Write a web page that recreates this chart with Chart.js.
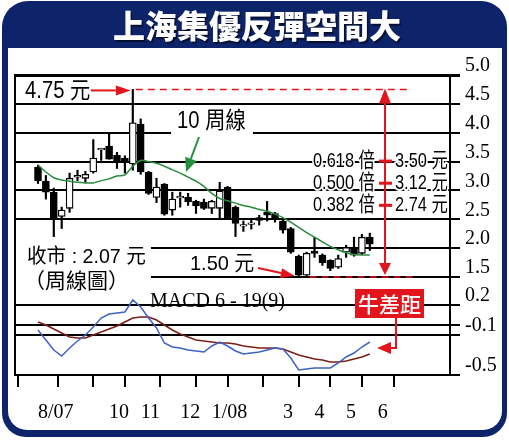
<!DOCTYPE html>
<html>
<head>
<meta charset="utf-8">
<script src="https://cdn.jsdelivr.net/npm/chart.js@4.4.1/dist/chart.umd.min.js"></script>
<style>
  html, body { margin: 0; padding: 0; background: #fff; }
  #wrap { width: 509px; height: 440px; position: relative; }
</style>
</head>
<body>
<div id="wrap"><canvas id="c" width="509" height="440"></canvas></div>
<script>
// Weekly candles, Aug 2007 – May 2008 (HKD)
const opens  = [3.40,3.16,2.97,2.55,2.69,3.23,3.21,3.32,3.70,3.77,3.61,3.56,3.46,4.15,3.32,2.88,3.11,2.66,2.87,2.88,2.81,2.80,2.69,2.69,3.06,2.71,2.38,2.41,2.53,2.62,2.60,2.47,2.34,1.86,1.53,1.95,1.88,1.79,1.67,1.93,2.01,1.91,2.19];
const highs  = [3.44,3.26,3.04,2.71,3.30,3.35,3.33,3.88,3.73,4.00,3.66,3.60,4.75,4.24,3.33,3.21,3.12,2.97,2.97,2.95,2.83,2.85,2.83,3.14,3.07,2.73,2.47,2.50,2.57,2.81,2.62,2.50,2.36,1.88,1.93,2.19,1.90,1.80,1.88,2.05,2.19,2.24,2.26];
const lows   = [3.12,2.85,2.20,2.34,2.62,3.17,3.14,3.30,3.52,3.54,3.38,3.30,3.35,3.28,2.93,2.79,2.57,2.57,2.71,2.74,2.60,2.67,2.60,2.52,2.51,2.20,2.29,2.33,2.40,2.47,2.45,2.26,1.91,1.50,1.50,1.84,1.70,1.61,1.65,1.84,1.86,1.89,1.96];
const closes = [3.17,2.97,2.52,2.66,3.21,3.26,3.28,3.56,3.73,3.54,3.49,3.51,4.17,3.32,2.95,3.06,2.59,2.85,2.90,2.80,2.73,2.69,2.81,2.99,2.53,2.43,2.41,2.44,2.48,2.57,2.50,2.31,1.93,1.53,1.91,1.91,1.75,1.65,1.82,2.01,1.88,2.19,2.07];

// 10-week moving average
const ma10 = [3.44,3.32,3.22,3.18,3.16,3.14,3.13,3.13,3.17,3.20,3.25,3.27,3.42,3.52,3.50,3.47,3.42,3.36,3.30,3.23,3.16,3.07,2.95,2.86,2.82,2.78,2.74,2.71,2.67,2.64,2.59,2.53,2.45,2.36,2.27,2.19,2.11,2.03,1.97,1.92,1.89,1.88,1.88];

// MACD 6-19(9)
const macdDif = [-0.05,-0.15,-0.25,-0.31,-0.23,-0.16,-0.10,-0.02,0.07,0.11,0.12,0.13,0.25,0.18,0.07,-0.03,-0.18,-0.22,-0.23,-0.25,-0.26,-0.27,-0.21,-0.17,-0.21,-0.26,-0.29,-0.28,-0.27,-0.25,-0.23,-0.24,-0.33,-0.45,-0.44,-0.43,-0.43,-0.43,-0.38,-0.32,-0.28,-0.22,-0.17];
const macdSig = [0.03,0.00,-0.04,-0.08,-0.12,-0.13,-0.13,-0.10,-0.07,-0.04,-0.01,0.03,0.07,0.08,0.08,0.05,0.00,-0.05,-0.09,-0.12,-0.15,-0.16,-0.17,-0.18,-0.18,-0.19,-0.21,-0.22,-0.23,-0.23,-0.23,-0.24,-0.27,-0.30,-0.32,-0.34,-0.35,-0.37,-0.37,-0.36,-0.34,-0.32,-0.29];

// Axis ticks
const monthTickWeeks = [0,5,9,13,18,22,26,31,35,39,43];
const monthLabels    = ['8/07','','10','11','12','1/08','','3','4','5','6'];
const priceTicks = [5.0,4.5,4.0,3.5,3.0,2.5,2.0,1.5];
const macdTicks  = [0.2,0,-0.1,-0.5];
const fibRatios  = [0.618,0.5,0.382];

const SANS  = '"Liberation Sans", "Noto Sans CJK TC", sans-serif';
const SERIF = '"Liberation Serif", "Times New Roman", serif';
const CJK   = '"Noto Sans CJK TC", sans-serif';
const NAVY  = '#0d236a';
const RED   = '#e3151c';

const weeks = opens.map((_, i) => i);

function drawText(ctx, s, x, y, size, o = {}) {
  ctx.save();
  ctx.font = `${o.weight || 'normal'} ${size}px ${o.family || SANS}`;
  ctx.textBaseline = o.baseline || 'middle';
  ctx.textAlign = o.align || 'left';
  ctx.translate(x, y);
  ctx.scale(o.hs || 1, 1);
  if (o.halo) {
    ctx.strokeStyle = '#fff'; ctx.lineWidth = o.halo; ctx.lineJoin = 'round';
    ctx.strokeText(s, 0, 0);
  }
  ctx.fillStyle = o.color || '#000';
  ctx.fillText(s, 0, 0);
  ctx.restore();
}

function head(ctx, tx, ty, fx, fy, len, half, color) {
  const a = Math.atan2(ty - fy, tx - fx);
  const bx = tx - len * Math.cos(a), by = ty - len * Math.sin(a);
  ctx.save();
  ctx.fillStyle = color;
  ctx.beginPath();
  ctx.moveTo(tx, ty);
  ctx.lineTo(bx + half * Math.sin(a), by - half * Math.cos(a));
  ctx.lineTo(bx - half * Math.sin(a), by + half * Math.cos(a));
  ctx.closePath();
  ctx.fill();
  ctx.restore();
  return [bx, by];
}

function arrow(ctx, fx, fy, tx, ty, color, lw, len, half) {
  const [bx, by] = head(ctx, tx, ty, fx, fy, len, half, color);
  ctx.save();
  ctx.strokeStyle = color; ctx.lineWidth = lw;
  ctx.beginPath(); ctx.moveTo(fx, fy); ctx.lineTo(bx, by); ctx.stroke();
  ctx.restore();
}

function roundRect(ctx, x, y, w, h, rt, rb) {
  ctx.beginPath();
  ctx.moveTo(x + rt, y);
  ctx.lineTo(x + w - rt, y);
  ctx.arcTo(x + w, y, x + w, y + rt, rt);
  ctx.lineTo(x + w, y + h - rb);
  ctx.arcTo(x + w, y + h, x + w - rb, y + h, rb);
  ctx.lineTo(x + rb, y + h);
  ctx.arcTo(x, y + h, x, y + h - rb, rb);
  ctx.lineTo(x, y + rt);
  ctx.arcTo(x, y, x + rt, y, rt);
  ctx.closePath();
}

const decor = {
  id: 'decor',
  beforeDraw(chart) {
    const ctx = chart.ctx;
    ctx.save();
    ctx.fillStyle = '#fff';
    ctx.fillRect(0, 0, chart.width, chart.height);
    ctx.fillStyle = NAVY;
    roundRect(ctx, 2, 1, 505, 436, 26, 24);
    ctx.fill();
    ctx.fillStyle = '#fff';
    roundRect(ctx, 8, 48, 494, 382, 0, 19);
    ctx.fill();
    ctx.shadowColor = 'rgba(0,0,0,0.55)';
    ctx.shadowOffsetX = 1.5; ctx.shadowOffsetY = 1.5; ctx.shadowBlur = 1;
    drawText(ctx, '上海集優反彈空間大', 257, 26, 32, { family: CJK, weight: '900', color: '#fff', align: 'center' });
    ctx.restore();
  },
  beforeDatasetsDraw(chart) {
    const ctx = chart.ctx, a = chart.chartArea;
    ctx.save();
    ctx.fillStyle = '#fff';
    ctx.fillRect(171, 110, 82, 24);   // label box for the MA caption
    ctx.fillRect(a.left + 1, 241, 135, 50); // label box for the close
    ctx.strokeStyle = '#000'; ctx.lineWidth = 2;
    ctx.beginPath(); ctx.moveTo(a.left, a.top - 1); ctx.lineTo(a.left, a.bottom + 1); ctx.stroke();
    ctx.restore();
  },
  afterDatasetsDraw(chart) {
    const ctx = chart.ctx, xs = chart.scales.x, ys = chart.scales.y;
    const hi = Math.max(...highs), lo = Math.min(...lows);
    const hiI = highs.indexOf(hi), loI = lows.indexOf(lo);
    const hiX = xs.getPixelForValue(hiI), hiY = ys.getPixelForValue(hi);
    const loX = xs.getPixelForValue(loI), loY = ys.getPixelForValue(lo);
    const vx = 385;

    ctx.save();
    // high marker
    drawText(ctx, hi.toFixed(2) + ' 元', 25, hiY + 2, 23, { hs: 0.88 });
    arrow(ctx, 91, hiY + 1, hiX - 2, hiY + 1, RED, 2, 15, 5);
    ctx.strokeStyle = RED; ctx.lineWidth = 1.5; ctx.setLineDash([7, 5]);
    ctx.beginPath(); ctx.moveTo(hiX + 3, hiY); ctx.lineTo(412, hiY); ctx.stroke();
    // low marker
    ctx.beginPath(); ctx.moveTo(loX + 11, loY); ctx.lineTo(414, loY); ctx.stroke();
    ctx.setLineDash([]);
    drawText(ctx, lo.toFixed(2) + ' 元', 190, loY - 13, 21, { hs: 0.95 });
    arrow(ctx, 258, loY - 9, loX - 4, loY - 1, RED, 2, 14, 5);

    // retracement range arrow
    ctx.strokeStyle = RED; ctx.lineWidth = 2;
    ctx.beginPath(); ctx.moveTo(vx, hiY + 12); ctx.lineTo(vx, loY - 10); ctx.stroke();
    head(ctx, vx, hiY - 1, vx, hiY + 20, 15, 6, RED);
    head(ctx, vx, loY - 2, vx, loY - 20, 12, 6, RED);

    fibRatios.forEach(r => {
      const v = lo + r * (hi - lo);
      const y = ys.getPixelForValue(v);
      ctx.strokeStyle = RED; ctx.lineWidth = 3;
      ctx.beginPath(); ctx.moveTo(vx - 6, y); ctx.lineTo(vx + 7, y); ctx.stroke();
      drawText(ctx, r.toFixed(3) + ' 倍', 313, y, 21, { hs: 0.78, halo: 4 });
      drawText(ctx, (Math.floor(v * 100) / 100).toFixed(2) + ' 元', 395, y, 21, { hs: 0.78, halo: 4 });
    });

    // MA caption
    drawText(ctx, '10 周線', 177, 122, 23, { hs: 0.88 });
    arrow(ctx, 199, 137, 186, 172, '#23913a', 2, 14, 6);

    // close caption
    const last = closes[closes.length - 1];
    drawText(ctx, '收市 : ' + last.toFixed(2) + ' 元', 27, 257, 20, { hs: 0.98 });
    drawText(ctx, '（周線圖）', 24, 280, 21, { family: CJK });

    // MACD caption
    drawText(ctx, 'MACD 6 - 19(9)', 150, 307, 20, { family: SERIF, baseline: 'alphabetic' });

    // DIF-DEA callout
    ctx.fillStyle = RED;
    ctx.fillRect(355, 289, 69, 29);
    drawText(ctx, '牛差距', 389.5, 304, 21, { family: CJK, weight: '500', color: '#fff', align: 'center' });
    ctx.strokeStyle = RED; ctx.lineWidth = 2;
    ctx.beginPath(); ctx.moveTo(396, 318); ctx.lineTo(396, 348); ctx.lineTo(388, 348); ctx.stroke();
    head(ctx, 377, 348, 396, 348, 14, 6, RED);
    ctx.restore();
  }
};

new Chart(document.getElementById('c'), {
  type: 'bar',
  data: {
    datasets: [
      {
        type: 'line', label: '10周線', yAxisID: 'y',
        data: weeks.map(i => ({ x: i, y: ma10[i] })),
        borderColor: '#2a8c3c', borderWidth: 1.5, pointRadius: 0, tension: 0.35, order: 0
      },
      {
        type: 'line', label: 'DIF', yAxisID: 'y2',
        data: weeks.map(i => ({ x: i, y: macdDif[i] })),
        borderColor: '#3d63c6', borderWidth: 1.5, pointRadius: 0, tension: 0, order: 0
      },
      {
        type: 'line', label: 'DEA', yAxisID: 'y2',
        data: weeks.map(i => ({ x: i, y: macdSig[i] })),
        borderColor: '#7a1e16', borderWidth: 1.5, pointRadius: 0, tension: 0, order: 0
      },
      {
        type: 'bar', label: 'body', yAxisID: 'y',
        data: weeks.map(i => ({ x: i, y: [opens[i], closes[i]] })),
        backgroundColor: c => (c.dataIndex !== undefined && closes[c.dataIndex] > opens[c.dataIndex]) ? '#fff' : '#000',
        borderColor: '#000', borderWidth: 1.3, borderSkipped: false,
        barThickness: 7, grouped: false, order: 1
      },
      {
        type: 'bar', label: 'wick', yAxisID: 'y',
        data: weeks.map(i => ({ x: i, y: [lows[i], highs[i]] })),
        backgroundColor: '#000', borderWidth: 0,
        barThickness: 1.5, grouped: false, order: 2
      }
    ]
  },
  options: {
    responsive: false,
    animation: false,
    events: [],
    layout: { padding: { left: 15, top: 75, right: 9, bottom: 15 } },
    plugins: { legend: { display: false }, tooltip: { enabled: false } },
    scales: {
      x: {
        type: 'linear', min: -2.91, max: 52.15, offset: false,
        afterBuildTicks: s => { s.ticks = monthTickWeeks.map(v => ({ value: v })); },
        afterFit: s => { s.height = 50; },
        grid: { drawOnChartArea: false, drawTicks: true, tickLength: 12, color: '#000', lineWidth: 2 },
        border: { display: true, color: '#000', width: 2 },
        ticks: {
          autoSkip: false, maxRotation: 0, align: 'start', padding: 14, color: '#000',
          font: { family: SERIF, size: 20 },
          callback: (v, i) => monthLabels[i]
        }
      },
      y: {
        type: 'linear', position: 'right', stack: 'right', stackWeight: 202,
        min: 1.5, max: 5.0,
        afterBuildTicks: s => { s.ticks = priceTicks.map(v => ({ value: v })); },
        afterFit: s => { s.width = 50; },
        grid: {
          color: '#000', tickLength: 10, drawTicks: true,
          lineWidth: c => (c.tick && c.tick.value === 5) ? 3 : 2
        },
        border: { display: true, color: '#000', width: 2 },
        ticks: {
          autoSkip: false, padding: 5, labelOffset: -9, color: '#000',
          font: { family: SERIF, size: 20 },
          callback: v => v.toFixed(1)
        }
      },
      y2: {
        type: 'linear', position: 'right', stack: 'right', stackWeight: 98,
        min: -0.5, max: 0.48,
        afterBuildTicks: s => { s.ticks = macdTicks.map(v => ({ value: v })); },
        afterFit: s => { s.width = 50; },
        grid: { color: '#000', tickLength: 10, drawTicks: true, lineWidth: 2 },
        border: { display: true, color: '#000', width: 2 },
        ticks: {
          autoSkip: false, padding: 5, labelOffset: -9, color: '#000',
          font: { family: SERIF, size: 20 },
          callback: v => v === 0 ? '' : v.toFixed(1)
        }
      }
    }
  },
  plugins: [decor]
});
</script>
</body>
</html>
